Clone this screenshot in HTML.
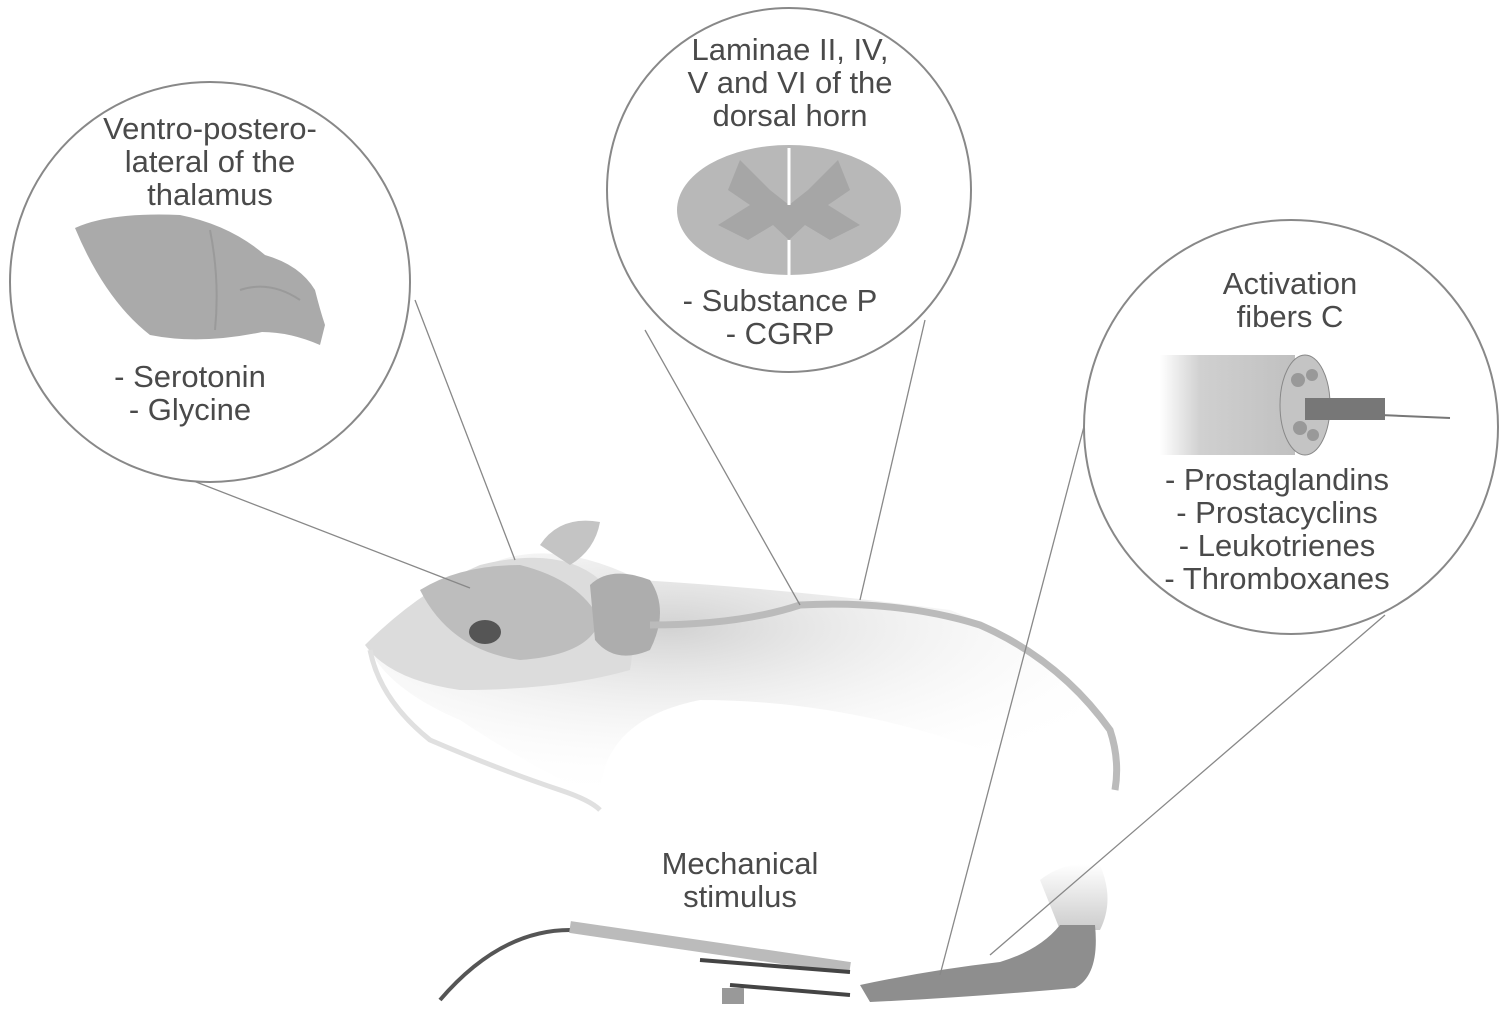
<!DOCTYPE html>
<html><head><meta charset="utf-8"><style>
html,body{margin:0;padding:0;background:#fff;}
.t{position:absolute;font-family:"Liberation Sans Narrow","Liberation Sans",sans-serif;color:#4a4a4a;font-size:31px;line-height:33px;text-align:center;white-space:nowrap;}
</style></head><body>
<div style="position:relative;width:1500px;height:1024px;overflow:hidden;">
<svg width="1500" height="1024" style="position:absolute;left:0;top:0">
<defs>
<radialGradient id="bg" cx="0.4" cy="0.3" r="0.7"><stop offset="0" stop-color="#d2d2d2"/><stop offset="1" stop-color="#fff" stop-opacity="0"/></radialGradient>
<linearGradient id="fib" x1="0" y1="0" x2="1" y2="0"><stop offset="0" stop-color="#fff"/><stop offset="0.3" stop-color="#d0d0d0"/><stop offset="1" stop-color="#c0c0c0"/></linearGradient>
<linearGradient id="leg" x1="0" y1="0" x2="0" y2="1"><stop offset="0" stop-color="#fff"/><stop offset="1" stop-color="#ccc"/></linearGradient>
</defs>
<path d="M370,640 Q420,590 500,560 Q560,540 640,580 Q800,590 950,610 Q1080,660 1120,760 L1100,800 Q900,700 700,700 Q600,720 600,800 Q520,760 460,720 Q390,690 370,650 Z" fill="url(#bg)"/>
<path d="M365,645 Q420,590 480,565 Q560,545 600,580 Q640,620 630,670 Q560,690 460,690 Q390,680 365,645 Z" fill="#dcdcdc"/>
<path d="M420,590 Q460,565 520,565 Q580,580 600,620 Q590,655 520,660 Q450,650 420,590 Z" fill="#bdbdbd"/>
<path d="M540,545 Q560,515 600,522 Q595,550 570,565 Z" fill="#c4c4c4"/>
<path d="M590,585 Q610,565 650,580 Q670,610 650,650 Q615,665 595,640 Z" fill="#adadad"/>
<ellipse cx="485" cy="632" rx="16" ry="12" fill="#555"/>
<path d="M650,625 Q740,625 800,605 Q900,600 980,625 Q1060,660 1110,730 Q1120,760 1115,790" fill="none" stroke="#bbb" stroke-width="7"/>
<path d="M370,650 Q380,700 430,740 Q500,770 560,790 Q590,800 600,810" fill="none" stroke="#e0e0e0" stroke-width="5"/>
<!-- leg + paw -->
<path d="M1040,880 Q1065,860 1100,865 Q1115,900 1100,930 L1060,930 Z" fill="url(#leg)"/>
<path d="M860,985 Q930,970 1000,962 Q1040,950 1060,925 L1095,925 Q1100,975 1075,988 Q960,998 870,1002 Z" fill="#8e8e8e"/>
<!-- instrument -->
<path d="M440,1000 Q500,930 570,930" fill="none" stroke="#555" stroke-width="4"/>
<path d="M570,927 L850,968" stroke="#bbb" stroke-width="12"/>
<path d="M700,960 L850,972 M730,985 L850,995" stroke="#444" stroke-width="4" fill="none"/>
<rect x="722" y="988" width="22" height="16" fill="#999"/>
<g stroke="#888" stroke-width="1.3" fill="none">
<line x1="160" y1="468" x2="470" y2="588"/>
<line x1="415" y1="300" x2="515" y2="560"/>
<line x1="645" y1="330" x2="800" y2="605"/>
<line x1="925" y1="320" x2="860" y2="600"/>
<line x1="1087" y1="415" x2="940" y2="975"/>
<line x1="1385" y1="615" x2="990" y2="955"/>
</g>
<g fill="#fff" stroke="#888" stroke-width="2">
<circle cx="210" cy="282" r="200"/>
<circle cx="789" cy="190" r="182"/>
<circle cx="1291" cy="427" r="207"/>
</g>
<!-- brain -->
<path d="M75,228 Q110,212 180,215 Q230,225 265,255 Q300,265 315,290 Q320,310 325,325 L320,345 Q290,332 262,332 Q200,345 150,335 Q105,300 75,228 Z" fill="#aaa"/>
<path d="M210,230 Q220,280 215,330 M240,290 Q270,280 300,300" stroke="#9a9a9a" stroke-width="2" fill="none"/>
<!-- spinal cord -->
<ellipse cx="789" cy="210" rx="112" ry="65" fill="#b8b8b8"/>
<path d="M740,160 L770,190 L789,205 L808,190 L838,160 L850,190 L828,205 L860,225 L830,240 L805,225 L789,240 L773,225 L748,240 L718,225 L750,205 L728,190 Z" fill="#a6a6a6"/>
<path d="M789,148 L789,205 M789,240 L789,275" stroke="#fff" stroke-width="3"/>
<!-- fiber -->
<rect x="1160" y="355" width="135" height="100" fill="url(#fib)"/>
<ellipse cx="1305" cy="405" rx="25" ry="50" fill="#c4c4c4" stroke="#888"/>
<circle cx="1298" cy="380" r="7" fill="#999"/><circle cx="1312" cy="375" r="6" fill="#999"/><circle cx="1300" cy="428" r="7" fill="#999"/><circle cx="1313" cy="435" r="6" fill="#999"/>
<rect x="1305" y="398" width="80" height="22" fill="#777"/>
<line x1="1380" y1="415" x2="1450" y2="418" stroke="#777" stroke-width="2"/>
</svg>
<div class="t" style="left:60px;top:112px;width:300px">Ventro-postero-<br>lateral of the<br>thalamus</div>
<div class="t" style="left:40px;top:360px;width:300px">- Serotonin<br>- Glycine</div>
<div class="t" style="left:640px;top:33px;width:300px">Laminae II, IV,<br>V and VI of the<br>dorsal horn</div>
<div class="t" style="left:620px;top:284px;width:320px">- Substance P<br>- CGRP</div>
<div class="t" style="left:1140px;top:267px;width:300px">Activation<br>fibers C</div>
<div class="t" style="left:1097px;top:463px;width:360px">- Prostaglandins<br>- Prostacyclins<br>- Leukotrienes<br>- Thromboxanes</div>
<div class="t" style="left:590px;top:847px;width:300px">Mechanical<br>stimulus</div>
</div>
</body></html>
